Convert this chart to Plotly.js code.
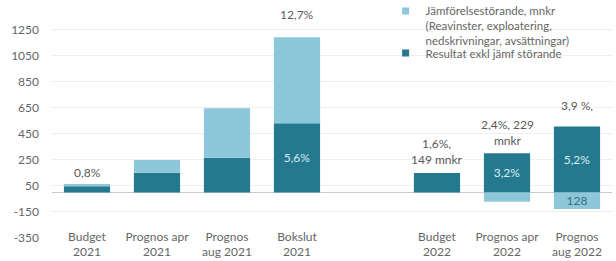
<!DOCTYPE html>
<html>
<head>
<meta charset="utf-8">
<script src="https://cdn.plot.ly/plotly-3.0.1.min.js"></script>
<style>html,body{margin:0;padding:0;background:#fff;}#chart{width:616px;height:261px;}</style>
</head>
<body>
<div id="chart"></div>
<script>
const categories = ["Budget<br>2021", "Prognos apr<br>2021", "Prognos<br>aug 2021", "Bokslut<br>2021", " ", "Budget<br>2022", "Prognos apr<br>2022", "Prognos<br>aug 2022"];
const resultat = [48, 150, 265, 530, null, 149, 300, 505];
const jamforelse = [17, 98, 380, 660, null, 0, -71, -128];
const resultatInside = ["", "", "", "5,6%", "", "", "3,2%", "5,2%"];
const jamforelseInside = ["", "", "", "", "", "", "", "128"];
const topLabels = ["0,8%", "", "", "12,7%", "", "1,6%,<br>149 mnkr", "2,4%, 229<br>mnkr", "3,9 %,"];
const yTicks = [-350, -150, 50, 250, 450, 650, 850, 1050, 1250];
const nameJamf = "Jämförelsestörande, mnkr<br>(Reavinster, exploatering,<br>nedskrivningar, avsättningar)";
const nameRes = "Resultat exkl jämf störande";

const DARK = "#25798e";
const LIGHT = "#8cc7da";
const FONT = "Lato, 'Open Sans', sans-serif";
const labelShift = [2, 0, 0, 13, 0, 4, 3, 12];

const traces = [
  {type: "bar", x: categories, y: resultat, name: nameRes, marker: {color: DARK},
   text: resultatInside, textposition: "inside", insidetextanchor: "middle", textangle: 0,
   constraintext: "none", insidetextfont: {color: "#d6edf2", size: 12, family: FONT},
   width: 0.66, showlegend: false, hoverinfo: "skip"},
  {type: "bar", x: categories, y: jamforelse, name: nameJamf, marker: {color: LIGHT},
   text: jamforelseInside, textposition: "inside", insidetextanchor: "middle", textangle: 0,
   constraintext: "none", insidetextfont: {color: "#3b6f7d", size: 12, family: FONT},
   width: 0.66, showlegend: false, hoverinfo: "skip"},
  {type: "scatter", mode: "markers", x: [null], y: [null], name: nameJamf, legend: "legend",
   marker: {symbol: "square", size: 7, color: LIGHT}},
  {type: "scatter", mode: "markers", x: [null], y: [null], name: nameRes, legend: "legend2",
   marker: {symbol: "square", size: 7, color: DARK}}
];

const annotations = [];
topLabels.forEach((t, i) => {
  if (!t) return;
  annotations.push({
    x: categories[i], y: resultat[i] + Math.max(jamforelse[i], 0), xref: "x", yref: "y",
    text: t, showarrow: false, yanchor: "bottom", yshift: labelShift[i],
    font: {family: FONT, size: 12, color: "#595959"}
  });
});

const legendBase = {x: 0.626, xref: "container", yref: "container", xanchor: "left", yanchor: "top",
  traceorder: "normal", valign: "top", font: {family: FONT, size: 11.5, color: "#666"},
  bgcolor: "rgba(0,0,0,0)", itemwidth: 30};

const layout = {
  width: 616, height: 261,
  margin: {l: 52, r: 4, t: 10, b: 23, autoexpand: false},
  paper_bgcolor: "#fff", plot_bgcolor: "#fff",
  font: {family: FONT, size: 12, color: "#666"},
  barmode: "relative",
  showlegend: true,
  legend: Object.assign({}, legendBase, {yref: "paper", y: 1.057}),
  legend2: Object.assign({}, legendBase, {y: 0.8506}),
  xaxis: {type: "category", anchor: "free", position: 0.046, showline: false, showgrid: false,
          zeroline: false, ticks: "", tickfont: {family: FONT, size: 12, color: "#666"},
          fixedrange: true},
  yaxis: {range: [-350, 1400], tickvals: yTicks, ticktext: yTicks.map(String),
          showgrid: true, gridcolor: "#eeeeee", gridwidth: 1,
          zeroline: true, zerolinecolor: "#cccccc", zerolinewidth: 1.5,
          ticks: "", ticklabelstandoff: 12, tickfont: {family: FONT, size: 12, color: "#666"},
          showline: false, fixedrange: true},
  annotations: annotations
};

Plotly.newPlot("chart", traces, layout, {displayModeBar: false, staticPlot: true});
</script>
</body>
</html>
